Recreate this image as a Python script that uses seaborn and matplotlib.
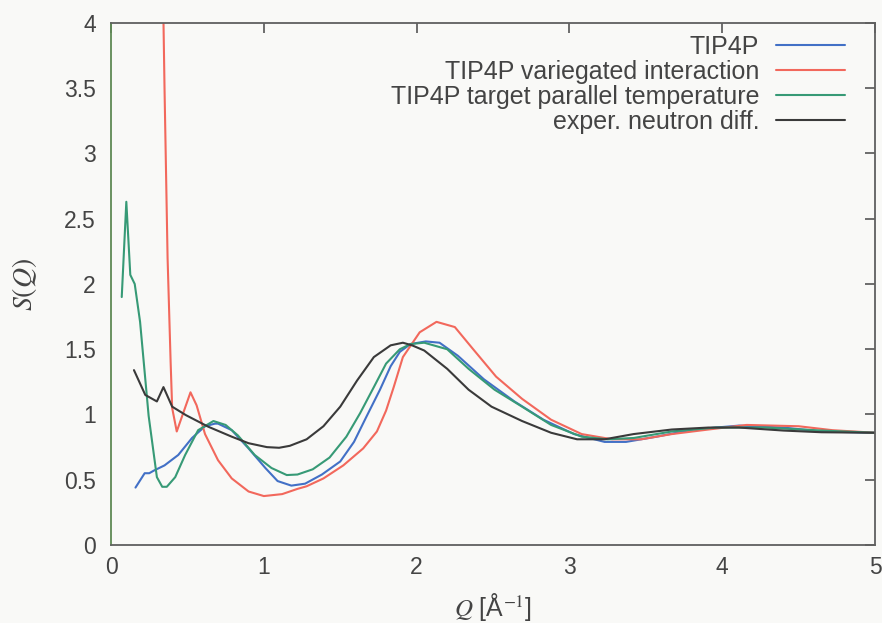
import numpy as np
import pandas as pd
import seaborn as sns
import matplotlib.pyplot as plt

# Q values [1/A] and S(Q), one pair of lists per curve
q_tip4p = [0.16, 0.22, 0.25, 0.28, 0.35, 0.44, 0.53, 0.615, 0.68, 0.70, 0.79, 0.90, 1.01, 1.09,
           1.18, 1.27, 1.38, 1.50, 1.59, 1.67, 1.76, 1.83, 1.89, 1.96, 2.06, 2.15, 2.27, 2.44,
           2.64, 2.83, 3.03, 3.23, 3.37, 3.57, 3.81, 4.11, 4.40, 4.65, 5.0]
s_tip4p = [0.44, 0.55, 0.55, 0.57, 0.61, 0.69, 0.82, 0.91, 0.93, 0.93, 0.88, 0.74, 0.59, 0.49,
           0.455, 0.47, 0.54, 0.64, 0.79, 0.98, 1.19, 1.37, 1.48, 1.54, 1.56, 1.55, 1.45, 1.27,
           1.10, 0.96, 0.85, 0.79, 0.79, 0.83, 0.885, 0.915, 0.90, 0.87, 0.86]

q_variegated = [0.33, 0.35, 0.37, 0.39, 0.40, 0.43, 0.52, 0.56, 0.615, 0.70, 0.79, 0.90, 1.0,
                1.12, 1.22, 1.28, 1.39, 1.52, 1.65, 1.74, 1.80, 1.85, 1.91, 2.02, 2.13, 2.25,
                2.37, 2.52, 2.69, 2.88, 3.08, 3.28, 3.47, 3.67, 3.91, 4.16, 4.50, 4.72, 5.0]
s_variegated = [5.0, 3.5, 2.2, 1.4, 1.05, 0.87, 1.17, 1.07, 0.85, 0.65, 0.51, 0.41, 0.375,
                0.39, 0.43, 0.45, 0.51, 0.61, 0.74, 0.87, 1.03, 1.21, 1.44, 1.63, 1.71, 1.67,
                1.50, 1.29, 1.12, 0.96, 0.85, 0.81, 0.81, 0.85, 0.885, 0.92, 0.91, 0.88, 0.86]

q_target = [0.07, 0.10, 0.126, 0.155, 0.19, 0.246, 0.30, 0.335, 0.365, 0.42, 0.485, 0.57, 0.67,
            0.75, 0.83, 0.94, 1.05, 1.15, 1.22, 1.32, 1.43, 1.54, 1.63, 1.72, 1.80, 1.89, 1.96,
            2.05, 2.20, 2.34, 2.51, 2.69, 2.88, 3.08, 3.25, 3.42, 3.67, 3.96, 4.28, 4.65, 5.0]
s_target = [1.90, 2.63, 2.07, 2.0, 1.71, 0.99, 0.52, 0.446, 0.446, 0.52, 0.69, 0.88, 0.95,
            0.92, 0.84, 0.69, 0.59, 0.536, 0.54, 0.58, 0.67, 0.83, 1.01, 1.21, 1.39, 1.50, 1.54,
            1.55, 1.50, 1.35, 1.19, 1.06, 0.92, 0.83, 0.81, 0.82, 0.87, 0.90, 0.90, 0.877, 0.86]

q_neutron = [0.15, 0.224, 0.30, 0.343, 0.40, 0.49, 0.637, 0.79, 0.90, 1.02, 1.10, 1.17, 1.28,
             1.39, 1.50, 1.61, 1.72, 1.83, 1.91, 1.97, 2.05, 2.20, 2.34, 2.49, 2.69, 2.88, 3.05,
             3.23, 3.42, 3.67, 3.91, 4.11, 4.40, 4.65, 5.0]
s_neutron = [1.34, 1.15, 1.10, 1.21, 1.06, 0.995, 0.906, 0.83, 0.78, 0.75, 0.745, 0.76, 0.81,
             0.91, 1.06, 1.26, 1.44, 1.53, 1.55, 1.53, 1.49, 1.35, 1.19, 1.06, 0.95, 0.86, 0.81,
             0.81, 0.85, 0.885, 0.90, 0.90, 0.877, 0.864, 0.86]

labels = ['TIP4P', 'TIP4P variegated interaction',
          'TIP4P target parallel temperature', 'exper. neutron diff.']
colors = ['#4270c6', '#f2685c', '#379a76', '#3a3a3a']

frames = []
for lab, q, s in zip(labels,
                     [q_tip4p, q_variegated, q_target, q_neutron],
                     [s_tip4p, s_variegated, s_target, s_neutron]):
    frames.append(pd.DataFrame({'Q': q, 'S': s, 'curve': lab}))
df = pd.concat(frames, ignore_index=True)

sns.set_style('white')
plt.rcParams['font.family'] = ['Liberation Sans', 'DejaVu Sans']
plt.rcParams['mathtext.fontset'] = 'stix'

fig = plt.figure(figsize=(8.82, 6.23), dpi=100)
fig.patch.set_facecolor('#f9f9f7')
ax = fig.add_axes([0.1259, 0.1252, 0.8662, 0.8379])
ax.set_facecolor('#f9f9f7')

sns.lineplot(data=df, x='Q', y='S', hue='curve', hue_order=labels,
             palette=dict(zip(labels, colors)), sort=False, estimator=None,
             linewidth=1.5, ax=ax)

ax.set_xlim(0, 5)
ax.set_ylim(0, 4)
ax.set_xticks(range(6))
ax.set_yticks(np.arange(0, 4.01, 0.5))
ax.set_yticklabels(['0', '0.5', '1', '1.5', '2', '2.5', '3', '3.5', '4'])
ax.tick_params(direction='in', length=7, width=1.2, color='#555555',
               top=True, right=True, labelsize=16.5, labelcolor='#444444')
ax.tick_params(axis='y', pad=11)
ax.tick_params(axis='x', pad=8)
for sp in ax.spines.values():
    sp.set_color('#606060')
    sp.set_linewidth(1.3)
ax.spines['left'].set_color('#5f8a55')

ax.set_xlabel(r'$Q$ [Å$^{-1}$]', fontsize=18, color='#444444')
ax.xaxis.set_label_coords(0.5, -0.088)
ax.set_ylabel(r'$S(Q)$', fontsize=20, color='#444444')
ax.yaxis.set_label_coords(-0.094, 0.5)

ax.legend(loc='upper right', bbox_to_anchor=(1.0, 1.035), frameon=False,
          markerfirst=False, fontsize=18, handlelength=2.75, labelspacing=0.04,
          borderaxespad=0.8, borderpad=0.4, handletextpad=0.68,
          labelcolor='#444444')

fig.savefig('out.png', dpi=100, facecolor=fig.get_facecolor())
